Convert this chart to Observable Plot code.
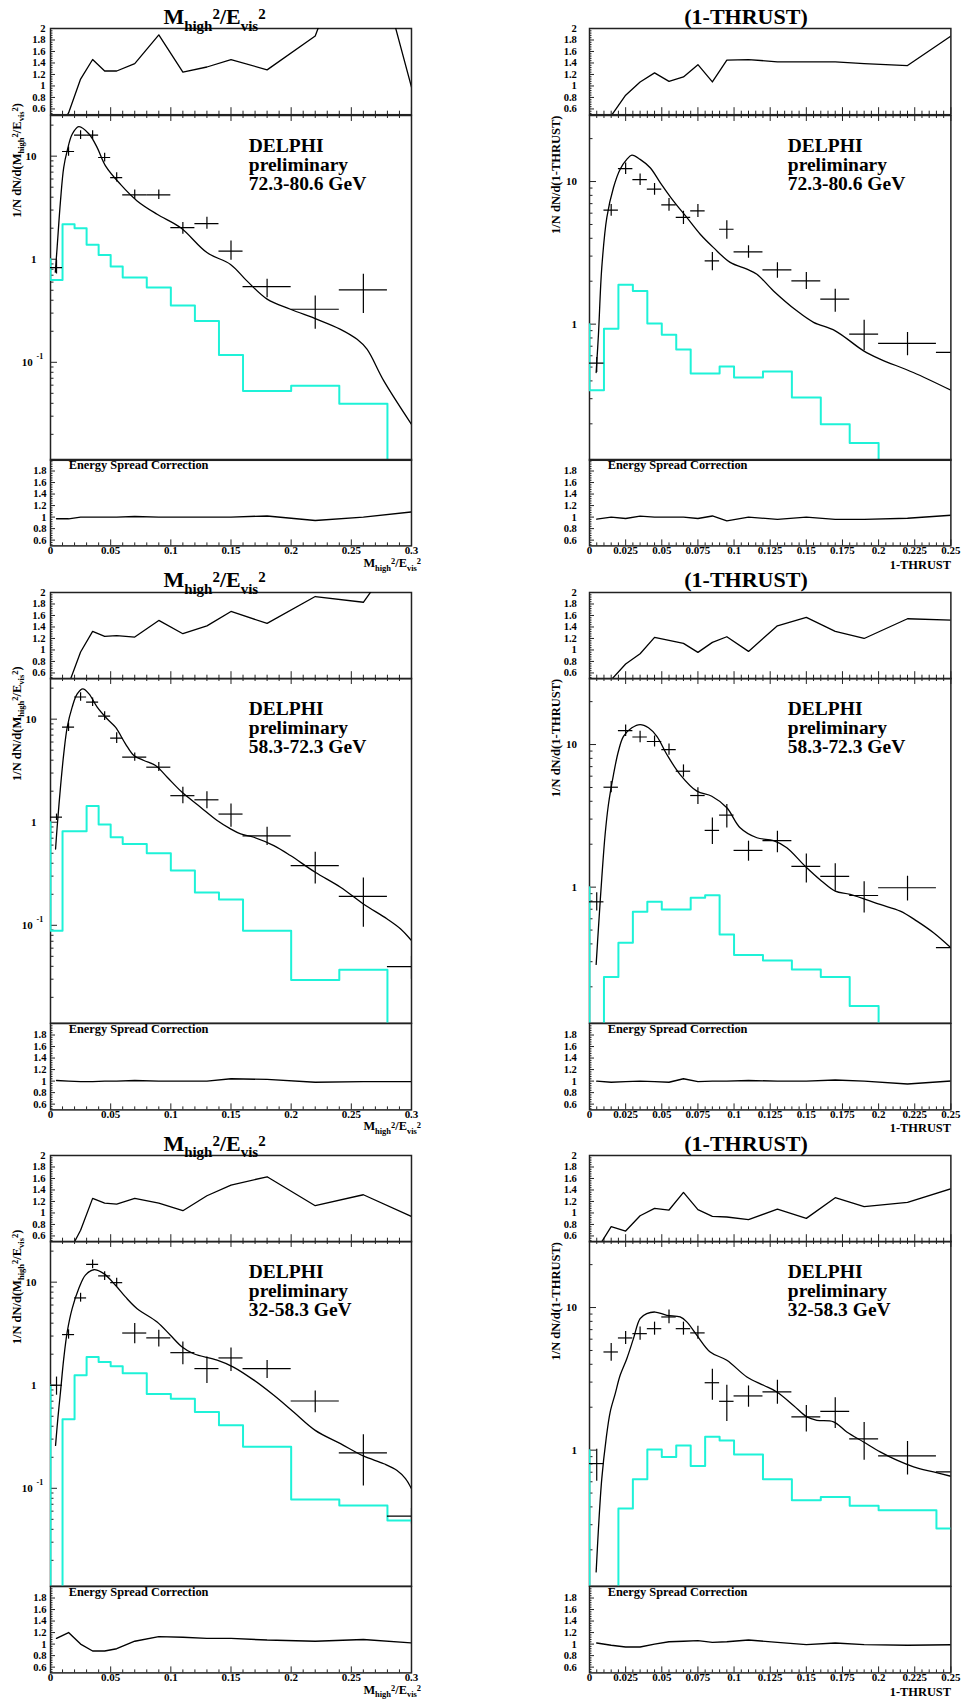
<!DOCTYPE html>
<html><head><meta charset="utf-8">
<script src="https://cdn.jsdelivr.net/npm/d3@7"></script>
<script src="https://cdn.jsdelivr.net/npm/@observablehq/plot@0.6"></script>
<style>
body{margin:0;background:#fff;}
#root{position:relative;width:962px;height:1703px;background:#fff;overflow:hidden;}
</style></head>
<body><div id="root"></div>
<script>
// ---------------- DATA ----------------
const massEdges = [0,0.01,0.02,0.03,0.04,0.05,0.06,0.08,0.10,0.12,0.14,0.16,0.20,0.24,0.28,0.32];
const massCenters = [0.005,0.015,0.025,0.035,0.045,0.055,0.07,0.09,0.11,0.13,0.15,0.18,0.22,0.26,0.30];
const thrustEdges = [0,0.01,0.02,0.03,0.04,0.05,0.06,0.07,0.08,0.09,0.10,0.12,0.14,0.16,0.18,0.20,0.24,0.28];
const thrustCenters = [0.005,0.015,0.025,0.035,0.045,0.055,0.065,0.075,0.085,0.095,0.11,0.13,0.15,0.17,0.19,0.22,0.26];

const massTickValues = [0,0.05,0.1,0.15,0.2,0.25,0.3];
const massTickLabels = ["0","0.05","0.1","0.15","0.2","0.25","0.3"];
const thrustTickValues = [0,0.025,0.05,0.075,0.1,0.125,0.15,0.175,0.2,0.225,0.25];
const thrustTickLabels = ["0","0.025","0.05","0.075","0.1","0.125","0.15","0.175","0.2","0.225","0.25"];
const ratioTickValues = [0.6,0.8,1,1.2,1.4,1.6,1.8,2];
const ratioTickLabels = ["0.6","0.8","1","1.2","1.4","1.6","1.8","2"];
const massMainTickValues = [0.1,1,10];
const massMainTickLabels = ["10","1","10"];
const thrustMainTickValues = [1,10];
const thrustMainTickLabels = ["1","10"];
const energyRanges = ["72.3-80.6 GeV","58.3-72.3 GeV","32-58.3 GeV"];

// --- 72.3-80.6 GeV ---
const massData1 = [0.83,11.1,16.0,16.0,9.7,6.2,4.21,4.21,2.03,2.22,1.2,0.543,0.327,0.504,null];
const massLo1   = [0.72,10.0,14.5,14.5,8.8,5.6,3.8,3.8,1.75,1.95,0.98,0.424,0.209,0.297,null];
const massHi1   = [0.98,12.3,17.6,17.6,10.7,6.9,4.7,4.7,2.27,2.55,1.5,0.64,0.44,0.715,null];
const massSim1  = [0.63,2.19,2.0,1.38,1.10,0.85,0.664,0.531,0.355,0.252,0.118,0.0527,0.0593,0.0397,0.001];
const massCurveX1 = [0.004,0.0055,0.0083,0.011,0.0139,0.018,0.0235,0.032,0.0388,0.0457,0.058,0.072,0.0886,0.108,0.130,0.1496,0.163,0.18,0.1994,0.2216,0.241,0.2548,0.263,0.277,0.3];
const massCurveY1 = [0.75,1.3,3.68,7.8,11.3,16.3,19.3,16.4,12.1,8.06,5.35,3.68,2.73,2.03,1.16,0.89,0.62,0.41,0.327,0.261,0.209,0.167,0.134,0.066,0.025];
const massRatio1  = [0.2,0.53,1.12,1.46,1.26,1.26,1.39,1.89,1.24,1.33,1.46,1.28,1.87,4.1,0.98];
const massSpread1 = [0.97,0.97,1.0,1.0,1.0,1.0,1.01,1.0,1.0,1.0,1.0,1.02,0.94,1.0,1.09];

const thrustData1 = [0.533,6.3,12.3,10.3,8.84,6.86,5.6,6.23,2.78,4.63,3.21,2.4,2.01,1.5,0.851,0.732,0.633];
const thrustLo1   = [0.458,5.7,11.2,9.4,8.0,6.2,5.0,5.6,2.37,3.94,2.9,2.1,1.75,1.21,0.65,0.6,0.55];
const thrustHi1   = [0.584,6.9,13.5,11.3,9.7,7.6,6.2,6.9,3.18,5.3,3.55,2.7,2.3,1.76,1.067,0.874,0.73];
const thrustSim1  = [0.344,0.927,1.89,1.71,1.01,0.842,0.664,0.451,0.451,0.505,0.423,0.466,0.306,0.199,0.147,0.001,0.001];
const thrustCurveX1 = [0.0046,0.0062,0.0085,0.012,0.0166,0.0212,0.0258,0.0293,0.035,0.042,0.0489,0.058,0.0673,0.0766,0.0858,0.0973,0.1089,0.1158,0.1273,0.1434,0.155,0.17,0.1896,0.201,0.224,0.25];
const thrustCurveY1 = [0.458,0.85,2.5,5.6,9.08,12.2,14.3,15.3,14.3,12.5,9.84,7.32,5.6,4.27,3.44,2.71,2.43,2.24,1.71,1.24,1.03,0.898,0.65,0.569,0.458,0.344];
const thrustRatio1  = [0.2,0.48,0.84,1.07,1.227,1.08,1.157,1.37,1.07,1.45,1.46,1.42,1.42,1.42,1.39,1.355,2.04];
const thrustSpread1 = [0.964,1.0,0.975,1.016,1.0,1.0,1.0,0.975,1.02,0.935,1.0,0.96,1.0,0.96,0.96,0.98,1.05];

// --- 58.3-72.3 GeV ---
const massData2 = [1.12,8.36,16.4,14.6,10.7,6.54,4.28,3.42,1.81,1.65,1.2,0.736,0.38,0.191,0.0397];
const massLo2   = [1.04,7.6,14.9,13.3,9.7,5.8,3.9,3.1,1.51,1.35,0.894,0.594,0.252,0.096,0.03];
const massHi2   = [1.2,9.2,18,16,11.8,7.4,4.7,3.8,2.19,1.98,1.5,0.894,0.51,0.288,0.05];
const massSim2  = [0.0887,0.818,0.818,1.44,0.949,0.715,0.616,0.5,0.34,0.208,0.178,0.0887,0.0295,0.0371,0.001];
const massCurveX2 = [0.0042,0.0055,0.0083,0.011,0.0139,0.018,0.0222,0.0269,0.032,0.0388,0.047,0.054,0.0623,0.0693,0.0776,0.0873,0.097,0.1094,0.1247,0.1385,0.1496,0.158,0.169,0.1856,0.1994,0.22,0.241,0.26,0.2798,0.291,0.3];
const massCurveY2 = [0.55,0.89,2.19,4.6,8.36,13.1,17.6,19.7,17.6,13.1,10.1,8.36,5.77,4.44,3.97,3.55,2.73,1.95,1.4,1.04,0.862,0.77,0.715,0.593,0.475,0.327,0.234,0.161,0.115,0.092,0.071];
const massRatio2  = [0.2,0.4,0.964,1.323,1.236,1.248,1.225,1.514,1.283,1.42,1.67,1.462,1.93,1.83,3.0];
const massSpread2 = [1.01,1.0,0.99,0.99,1.0,1.0,1.01,1.0,1.0,1.0,1.04,1.03,0.98,0.99,0.99];

const thrustData2 = [0.789,5.02,12.5,11.3,10.5,9.22,6.5,4.39,2.5,3.2,1.81,2.12,1.4,1.19,0.874,0.99,0.376];
const thrustLo2   = [0.679,4.6,11.4,10.3,9.6,8.4,5.9,3.8,1.99,2.6,1.52,1.74,1.07,0.937,0.66,0.8,0.33];
const thrustHi2   = [0.913,5.5,13.7,12.4,11.5,10.1,7.2,4.97,3.06,3.8,2.1,2.47,1.71,1.46,1.09,1.19,0.43];
const thrustSim2  = [0.001,0.234,0.407,0.671,0.789,0.697,0.697,0.842,0.879,0.466,0.334,0.306,0.264,0.234,0.147,0.001,0.001];
const thrustCurveX2 = [0.0046,0.0062,0.0085,0.0108,0.0131,0.0166,0.02,0.0235,0.0293,0.035,0.0408,0.0466,0.0535,0.0627,0.0743,0.0846,0.095,0.1042,0.1158,0.1273,0.1365,0.1492,0.1607,0.17,0.1803,0.201,0.215,0.2265,0.238,0.25];
const thrustCurveY2 = [0.287,0.519,1.16,2.34,3.8,6.16,8.98,11.4,13.1,13.8,13.1,11.4,8.51,6.16,4.71,4.34,3.6,2.61,2.22,2.12,1.89,1.4,1.1,0.937,0.889,0.756,0.679,0.578,0.479,0.376];
const thrustRatio2  = [0.2,0.48,0.755,0.935,1.219,1.165,1.115,0.958,1.132,1.23,0.975,1.42,1.567,1.323,1.2,1.543,1.51];
const thrustSpread2 = [1.0,0.98,0.99,1.0,0.99,0.98,1.04,0.99,1.0,1.0,1.01,1.0,1.0,1.02,1.0,0.95,1.02];

// --- 32-58.3 GeV ---
const massData3 = [1.0,3.1,7.03,14.9,11.5,9.89,3.21,2.88,2.07,1.45,1.84,1.45,0.703,0.221,0.0537];
const massLo3   = [0.8,2.8,6.4,13.5,10.4,9.0,2.53,2.35,1.58,1.04,1.36,1.16,0.54,0.105,0.045];
const massHi3   = [1.2,3.45,7.8,16.4,12.6,10.9,3.96,3.41,2.63,1.88,2.3,1.74,0.88,0.33,0.064];
const massSim3  = [0.001,0.467,1.25,1.88,1.68,1.53,1.31,0.822,0.74,0.55,0.408,0.253,0.078,0.0682,0.0488];
const massCurveX3 = [0.0042,0.0061,0.0083,0.011,0.0139,0.018,0.0235,0.029,0.036,0.0443,0.054,0.0623,0.072,0.0886,0.0997,0.1094,0.119,0.1385,0.152,0.169,0.1856,0.202,0.22,0.241,0.26,0.277,0.288,0.295,0.3];
const massCurveY3 = [0.261,0.474,0.86,1.81,3.29,5.53,8.66,11.7,13.2,12.1,9.33,7.19,5.53,4.11,3.05,2.35,2.02,1.75,1.5,1.12,0.798,0.55,0.365,0.271,0.206,0.173,0.149,0.124,0.099];
const massRatio3  = [0.1,0.3,0.7,1.254,1.172,1.155,1.254,1.172,1.039,1.3,1.486,1.63,1.126,1.317,0.94];
const massSpread3 = [1.1,1.2,1.0,0.88,0.88,0.92,1.05,1.13,1.12,1.1,1.1,1.07,1.05,1.08,1.02];

const thrustData3 = [0.805,4.88,6.12,6.56,7.11,8.59,7.11,6.64,2.97,2.2,2.4,2.56,1.71,1.87,1.2,0.911,0.703];
const thrustLo3   = [0.605,4.2,5.5,5.9,6.4,7.7,6.4,6.0,2.24,1.59,2.0,2.1,1.34,1.42,0.85,0.67,0.62];
const thrustHi3   = [1.015,5.6,6.8,7.3,7.9,9.6,7.9,7.4,3.69,2.85,2.82,3.09,2.06,2.33,1.56,1.15,0.8];
const thrustSim3  = [0.001,0.001,0.39,0.625,1.01,0.897,1.08,0.775,1.24,1.17,0.931,0.625,0.446,0.47,0.407,0.379,0.282];
const thrustCurveX3 = [0.0046,0.0062,0.0085,0.0115,0.0143,0.0178,0.0212,0.0258,0.0304,0.035,0.0396,0.0454,0.0535,0.0627,0.0673,0.0743,0.0835,0.095,0.1089,0.1204,0.1296,0.1411,0.1504,0.1573,0.1688,0.178,0.1896,0.2011,0.2126,0.2242,0.238,0.25];
const thrustCurveY3 = [0.14,0.282,0.631,1.2,1.85,2.49,3.35,4.38,6.05,8.36,9.06,9.3,8.82,8.59,7.93,6.39,4.88,4.27,3.26,2.85,2.56,2.06,1.71,1.62,1.58,1.34,1.14,0.972,0.85,0.764,0.703,0.656];
const thrustRatio3  = [0.36,0.761,0.686,0.952,1.08,1.051,1.358,1.057,0.941,0.93,0.884,1.068,0.906,1.265,1.11,1.184,1.5];
const thrustSpread3 = [1.02,0.98,0.95,0.95,1.0,1.04,1.05,1.06,1.03,1.04,1.07,1.03,0.99,1.02,0.99,0.98,0.99];

// ---------------- LAYOUT / STYLE ----------------
const root = document.getElementById("root");
const FONT = "'Liberation Serif','Times New Roman',serif";
const INK = "#000";
const FRAME = "#222";
const CYAN = "#1ef2d8";
const GROUP_DY = 563.3;
const COLS = [
  {x0: 50, x1: 411, gapRatio: 5, gapMain: 14, gapBottom: 4},
  {x0: 589.3, x1: 950.7, gapRatio: 12.6, gapMain: 12.6, gapBottom: 12.6}
];
const Y_RATIO = 28.3, Y_MAIN = 114.5, Y_BOTTOM = 459.3, Y_END = 545.7;
const MG = {l: 50, r: 14, t: 12, b: 30};

const groups = [
  {row:0, kind:"mass", d:massData1, lo:massLo1, hi:massHi1, sim:massSim1, cx:massCurveX1, cy:massCurveY1, ratio:massRatio1, spread:massSpread1},
  {row:0, kind:"thrust", d:thrustData1, lo:thrustLo1, hi:thrustHi1, sim:thrustSim1, cx:thrustCurveX1, cy:thrustCurveY1, ratio:thrustRatio1, spread:thrustSpread1},
  {row:1, kind:"mass", d:massData2, lo:massLo2, hi:massHi2, sim:massSim2, cx:massCurveX2, cy:massCurveY2, ratio:massRatio2, spread:massSpread2},
  {row:1, kind:"thrust", d:thrustData2, lo:thrustLo2, hi:thrustHi2, sim:thrustSim2, cx:thrustCurveX2, cy:thrustCurveY2, ratio:thrustRatio2, spread:thrustSpread2},
  {row:2, kind:"mass", d:massData3, lo:massLo3, hi:massHi3, sim:massSim3, cx:massCurveX3, cy:massCurveY3, ratio:massRatio3, spread:massSpread3},
  {row:2, kind:"thrust", d:thrustData3, lo:thrustLo3, hi:thrustHi3, sim:thrustSim3, cx:thrustCurveX3, cy:thrustCurveY3, ratio:thrustRatio3, spread:thrustSpread3}
];

function isMult(v, step) { const q = v / step; return Math.abs(q - Math.round(q)) < 1e-6; }
const ratioMinor = d3.range(0.52, 2.0, 0.04).filter(v => !isMult(v - 0.6, 0.2));
const massMinor = d3.range(0.01, 0.3, 0.01).filter(v => !isMult(v, 0.05));
const thrustMinor = d3.range(0.005, 0.25, 0.005).filter(v => !isMult(v, 0.025));
function logTicks(lo, hi) {
  const major = [], minor = [];
  for (let e = -3; e <= 2; e++) for (let k = 1; k < 10; k++) {
    const v = k * Math.pow(10, e);
    if (v < lo || v > hi) continue;
    (k === 1 ? major : minor).push(v);
  }
  return {major, minor};
}

function place(svg, left, top) {
  svg.style.position = "absolute";
  svg.style.left = left + "px";
  svg.style.top = top + "px";
  svg.style.overflow = "visible";
  svg.style.maxWidth = "none";
  svg.style.background = "transparent";
  root.appendChild(svg);
}

const txt = (size) => ({fontFamily: FONT, fontWeight: "bold", fontSize: size, fill: INK});

function drawGroup(g) {
  const col = g.kind === "mass" ? 0 : 1;
  const C = COLS[col];
  const o = g.row * GROUP_DY;
  const W = C.x1 - C.x0;
  const xDomain = g.kind === "mass" ? [0, 0.3] : [0, 0.25];
  const centers = g.kind === "mass" ? massCenters : thrustCenters;
  const edges = g.kind === "mass" ? massEdges : thrustEdges;
  const xMajor = g.kind === "mass" ? massTickValues : thrustTickValues;
  const xLabels = g.kind === "mass" ? massTickLabels : thrustTickLabels;
  const xMinor = g.kind === "mass" ? massMinor : thrustMinor;
  const yMain = g.kind === "mass" ? [0.0112, 24.8] : [0.111, 29.05];
  const lt = logTicks(yMain[0], yMain[1]);
  const tickStyle = {stroke: FRAME, strokeWidth: 1};

  // ---- ratio panel ----
  const Hr = Y_MAIN - Y_RATIO;
  const ratioPts = centers.map((x, i) => ({x, y: g.ratio[i]}));
  const svgR = Plot.plot({
    width: W + MG.l + MG.r, height: Hr + MG.t + MG.b,
    marginLeft: MG.l, marginRight: MG.r, marginTop: MG.t, marginBottom: MG.b,
    x: {domain: xDomain, axis: null}, y: {domain: [0.5, 2], axis: null},
    marks: [
      Plot.frame({stroke: FRAME, strokeWidth: 1.5}),
      Plot.ruleY(ratioTickValues, {y: d => d, insetRight: W - 5, ...tickStyle}),
      Plot.ruleY(ratioMinor, {y: d => d, insetRight: W - 2.5, ...tickStyle}),
      Plot.ruleX(xMajor, {x: d => d, insetTop: Hr - 7, ...tickStyle}),
      Plot.ruleX(xMinor, {x: d => d, insetTop: Hr - 3.5, ...tickStyle}),
      Plot.line(ratioPts, {x: "x", y: "y", stroke: INK, strokeWidth: 1.3, clip: true}),
      Plot.text(ratioTickValues, {x: () => xDomain[0], y: d => d, text: (d, i) => ratioTickLabels[i],
        dx: -C.gapRatio, textAnchor: "end", lineAnchor: "middle", ...txt(10.6)})
    ]
  });
  place(svgR, C.x0 - MG.l, Y_RATIO + o - MG.t);

  // ---- main panel ----
  const Hm = Y_BOTTOM - Y_MAIN;
  const simPts = [{x: edges[0], y: 1}];
  g.sim.forEach((v, i) => simPts.push({x: edges[i], y: v}));
  simPts.push({x: edges[g.sim.length], y: g.sim[g.sim.length - 1]});
  const curvePts = g.cx.map((x, i) => ({x, y: g.cy[i]}));
  const dataPts = centers.map((x, i) => ({x, x1: edges[i], x2: edges[i + 1], y: g.d[i], lo: g.lo[i], hi: g.hi[i]}))
    .filter(p => p.y != null);
  const mainVals = g.kind === "mass" ? massMainTickValues : thrustMainTickValues;
  const mainLabels = g.kind === "mass" ? massMainTickLabels : thrustMainTickLabels;
  const label = ["DELPHI", "preliminary", energyRanges[g.row]].join("\n");
  const mainMarks = [
    Plot.frame({stroke: FRAME, strokeWidth: 1.5}),
    Plot.ruleY(lt.major, {y: d => d, insetRight: W - 7, ...tickStyle}),
    Plot.ruleY(lt.minor, {y: d => d, insetRight: W - 3.5, ...tickStyle}),
    Plot.ruleX(xMajor, {x: d => d, insetBottom: Hm - 6, ...tickStyle}),
    Plot.ruleX(xMinor, {x: d => d, insetBottom: Hm - 3, ...tickStyle}),
    Plot.line(simPts, {x: "x", y: "y", curve: "step-after", stroke: CYAN, strokeWidth: 2, clip: true}),
    Plot.line(curvePts, {x: "x", y: "y", curve: "catmull-rom", stroke: INK, strokeWidth: 1.3, clip: true}),
    Plot.ruleX(dataPts, {x: "x", y1: "lo", y2: "hi", stroke: INK, strokeWidth: 1.2, clip: true}),
    Plot.ruleY(dataPts, {y: "y", x1: "x1", x2: "x2", stroke: INK, strokeWidth: 1.2, clip: true}),
    Plot.text(mainVals.filter(v => v >= 1), {x: () => xDomain[0], y: d => d,
      text: d => mainLabels[mainVals.indexOf(d)], dx: -C.gapMain, textAnchor: "end", lineAnchor: "middle", ...txt(11)}),
    Plot.text([label], {text: d => d, frameAnchor: "top-left", dx: 198.3, dy: 75, lineAnchor: "bottom",
      lineHeight: 1.0, ...txt(19.5)})
  ];
  if (g.kind === "mass") {
    mainMarks.push(Plot.text([0.1], {x: () => xDomain[0], y: d => d, text: () => mainLabels[0],
      dx: -17.7, textAnchor: "end", lineAnchor: "middle", ...txt(11)}));
    mainMarks.push(Plot.text([0.1], {x: () => xDomain[0], y: d => d, text: () => "-1",
      dx: -14, dy: -5.5, textAnchor: "start", lineAnchor: "middle", ...txt(8)}));
  }
  const svgM = Plot.plot({
    width: W + MG.l + MG.r, height: Hm + MG.t + MG.b,
    marginLeft: MG.l, marginRight: MG.r, marginTop: MG.t, marginBottom: MG.b,
    x: {domain: xDomain, axis: null}, y: {type: "log", domain: yMain, axis: null},
    marks: mainMarks
  });
  place(svgM, C.x0 - MG.l, Y_MAIN + o - MG.t);

  // ---- bottom (energy spread) panel ----
  const Hb = Y_END - Y_BOTTOM;
  const spreadPts = centers.map((x, i) => ({x, y: g.spread[i]}));
  const svgB = Plot.plot({
    width: W + MG.l + MG.r, height: Hb + MG.t + MG.b,
    marginLeft: MG.l, marginRight: MG.r, marginTop: MG.t, marginBottom: MG.b,
    x: {domain: xDomain, axis: null}, y: {domain: [0.5, 2], axis: null},
    marks: [
      Plot.frame({stroke: FRAME, strokeWidth: 1.5}),
      Plot.ruleY(ratioTickValues, {y: d => d, insetRight: W - 5, ...tickStyle}),
      Plot.ruleY(ratioMinor, {y: d => d, insetRight: W - 2.5, ...tickStyle}),
      Plot.ruleX(xMajor, {x: d => d, insetTop: Hb - 6, ...tickStyle}),
      Plot.ruleX(xMinor, {x: d => d, insetTop: Hb - 3, ...tickStyle}),
      Plot.line(spreadPts, {x: "x", y: "y", stroke: INK, strokeWidth: 1.4, clip: true}),
      Plot.text(ratioTickValues.slice(0, -1), {x: () => xDomain[0], y: d => d, text: (d, i) => ratioTickLabels[i],
        dx: -C.gapBottom, textAnchor: "end", lineAnchor: "middle", ...txt(10.6)}),
      Plot.text(xMajor, {x: d => d, y: () => 0.5, text: (d, i) => xLabels[i], dy: 8,
        textAnchor: "middle", lineAnchor: "bottom", ...txt(11)}),
      Plot.text(["Energy Spread Correction"], {text: d => d, frameAnchor: "top-left", dx: 18.2, dy: 9.8,
        lineAnchor: "bottom", ...txt(12.4)})
    ]
  });
  place(svgB, C.x0 - MG.l, Y_BOTTOM + o - MG.t);
}

groups.forEach(drawGroup);

// ---------------- titles (rich text overlay) ----------------
const ov = d3.select(root).append("svg")
  .attr("width", 962).attr("height", 1703)
  .style("position", "absolute").style("left", "0px").style("top", "0px")
  .style("pointer-events", "none")
  .style("font-family", FONT).style("font-weight", "bold");

function rich(x, y, parts, size, anchor, rotate) {
  const t = ov.append("text").attr("text-anchor", anchor).attr("fill", INK)
    .attr("transform", `translate(${x},${y})` + (rotate ? " rotate(-90)" : ""));
  let cur = 0;
  parts.forEach(p => {
    const s = p[1] || "n";
    const target = s === "sub" ? 0.3 * size : s === "sup" ? -0.22 * size : 0;
    t.append("tspan").text(p[0]).attr("dy", target - cur)
      .style("font-size", (s === "n" ? size : size * 0.68) + "px");
    cur = target;
  });
}
const massTitle = [["M"], ["high", "sub"], ["2", "sup"], ["/E"], ["vis", "sub"], ["2", "sup"]];
const massYTitle = [["1/N dN/d(M"], ["high", "sub"], ["2", "sup"], ["/E"], ["vis", "sub"], ["2", "sup"], [")"]];
for (let r = 0; r < 3; r++) {
  const o = r * GROUP_DY;
  rich(214.5, 24 + o, massTitle, 22, "middle");
  rich(746, 24 + o, [["(1-THRUST)"]], 22, "middle");
  rich(421, 567 + o, massTitle, 12.4, "end");
  rich(951, 569 + o, [["1-THRUST"]], 12.4, "end");
  rich(20.5, 103 + o, massYTitle, 12.5, "end", true);
  rich(559.5, 115.5 + o, [["1/N dN/d(1-THRUST)"]], 12.5, "end", true);
}
</script>
</body></html>
